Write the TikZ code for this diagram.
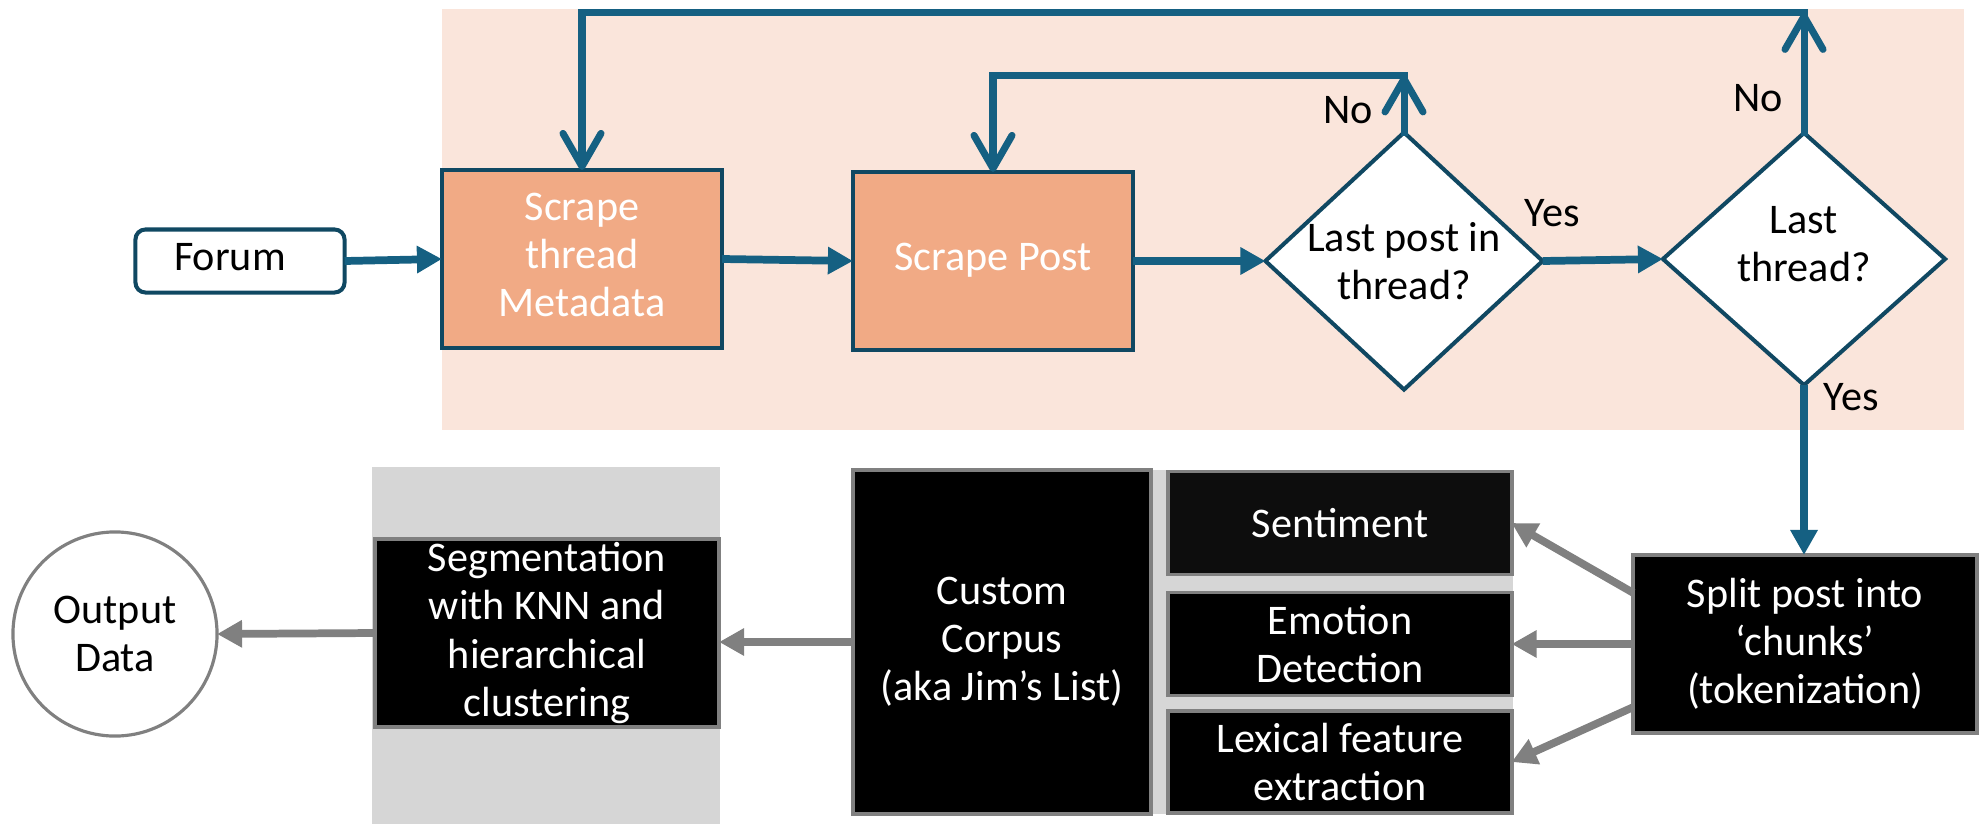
\documentclass[tikz,border=0pt]{standalone}
\usepackage{fontspec}
\setmainfont{Carlito}
\usetikzlibrary{shapes.geometric,arrows.meta}

\definecolor{flowblue}{HTML}{156082}
\definecolor{edgeblue}{HTML}{104862}
\definecolor{scrapefill}{HTML}{F1AA85}
\definecolor{peachbg}{HTML}{FAE5DB}
\definecolor{panelgray}{HTML}{D6D6D6}
\definecolor{arrowgray}{HTML}{808080}

\newcommand{\liftby}[2]{\raisebox{#1}{\begin{tabular}{@{}c@{}}#2\end{tabular}}}

\begin{document}
\begin{tikzpicture}[x=0.01cm, y=-0.01cm,
    every node/.style={font=\fontsize{12}{13.7}\selectfont, inner sep=0pt, outer sep=0pt, align=center},
    scrapebox/.style={rectangle, draw=edgeblue, line width=1.15pt, fill=scrapefill, text=white,
        minimum width=2.8cm, minimum height=1.78cm},
    decision/.style={diamond, draw=edgeblue, line width=1.15pt, fill=white},
    nlpbox/.style={rectangle, draw=arrowgray, line width=1.1pt, fill=black, text=white},
    flow/.style={flowblue, line width=2.2pt, -{Triangle[length=0.25cm,width=0.26cm]}},
    loopback/.style={flowblue, line width=2pt, line cap=rect, -{Straight Barb[length=0.33cm,width=0.38cm,round]}},
    grayflow/.style={arrowgray, line width=2.2pt, -{Triangle[length=0.25cm,width=0.26cm]}},
]
\useasboundingbox (0,0) rectangle (1979,824);

%% Help lines
% \begin{scope}[help lines, opacity=0.2]
%     \draw[step=1cm] (0,0) grid (1979,824);
% \end{scope}

%% Panels
\fill[peachbg] (442,9) rectangle (1964,430);
\fill[panelgray] (372,467) rectangle (720,824);
\fill[panelgray] (1151,470) rectangle (1513,814);

%% Scraping
\node[draw=edgeblue, line width=1.15pt, rounded corners=0.1cm,
    minimum width=2.09cm, minimum height=0.63cm] (forum) at (240,261) {\liftby{0.08cm}{Forum\hspace*{0.2cm}}};
\node[scrapebox] (thread) at (582,259) {\liftby{-0.13cm}{Scrape\\thread\\Metadata}};
\node[scrapebox] (post) at (993,261) {\liftby{-0.04cm}{Scrape Post}};
\node[decision, minimum width=2.77cm, minimum height=2.57cm,
    label={[name=lastposttext]center:Last post in\\thread?}] (lastpost) at (1404,261) {};
\node[decision, minimum width=2.82cm, minimum height=2.52cm,
    label={[name=lastthreadtext, yshift=0.15cm]center:Last\\thread?}] (lastthread) at (1804,259) {};

\node (nopost) at (1348,110) {No};
\node (nothread) at (1758,98) {No};
\node (yespost) at (1552,213) {Yes};
\node (yesthread) at (1851,397) {Yes};

\coordinate (postloop) at ([yshift=0.57cm]lastpost.north);
\coordinate (threadloop) at ([yshift=1.2cm]lastthread.north);

\draw[flow] (forum.east) -- (thread.west);
\draw[flow] (thread.east) -- (post.west);
\draw[flow] (post.east) -- (lastpost.west);
\draw[flow] (lastpost.east) -- (lastthread.west);
\draw[loopback] (lastpost.north) -- (postloop);
\draw[loopback] (postloop) -| (post.north);
\draw[loopback] (lastthread.north) -- (threadloop);
\draw[loopback] (threadloop) -| (thread.north);

%% Text processing
\node[nlpbox, minimum width=3.43cm, minimum height=1.78cm] (split) at (1805,644)
    {Split post into\\‘chunks’\\(tokenization)};
\node[nlpbox, fill=black!95, minimum width=3.43cm, minimum height=1.03cm] (sentiment) at (1340,523) {Sentiment};
\node[nlpbox, minimum width=3.43cm, minimum height=1.03cm] (emotion) at (1340,644) {Emotion\\Detection};
\node[nlpbox, minimum width=3.43cm, minimum height=1.02cm] (lexical) at (1340,762) {Lexical feature\\extraction};
\node[nlpbox, minimum width=2.98cm, minimum height=3.43cm] (corpus) at (1002,642) {Custom\\Corpus\\(aka Jim’s List)};
\node[nlpbox, minimum width=3.44cm, minimum height=1.88cm] (segment) at (547,633)
    {Segmentation\\with KNN and\\hierarchical\\clustering};
\node[circle, draw=arrowgray, line width=0.9pt, fill=white, minimum size=2.04cm] (output) at (115,634) {Output\\Data};

\draw[flow] (lastthread.south) -- (lastthread.south |- split.north);
\draw[grayflow] ([yshift=0.51cm]split.west) -- (sentiment.east);
\draw[grayflow] (split.west) -- (emotion.east);
\draw[grayflow] ([yshift=-0.63cm]split.west) -- (lexical.east);
\draw[grayflow] (corpus.west) -- (corpus.west -| segment.east);
\draw[grayflow] (segment.west) -- (output.east);
\end{tikzpicture}
\end{document}
